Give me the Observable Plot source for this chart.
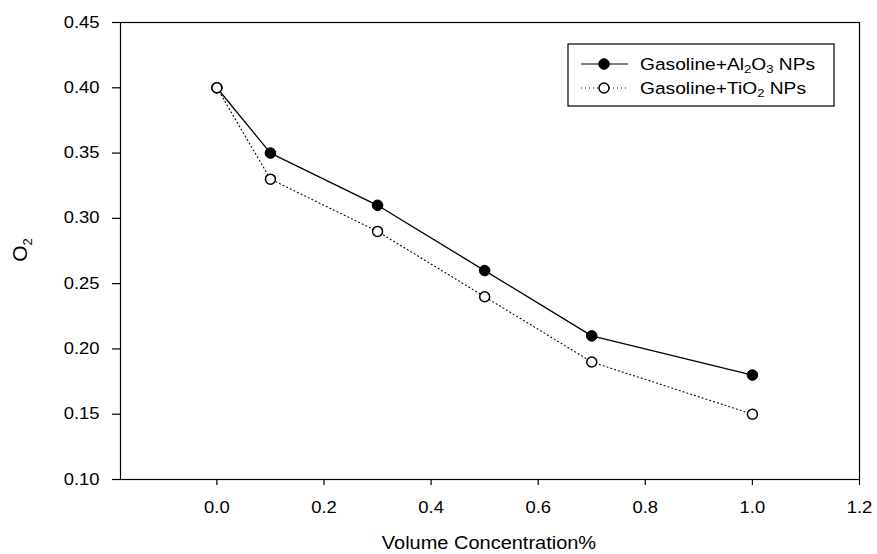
<!DOCTYPE html>
<html><head><meta charset="utf-8">
<script src="https://cdn.jsdelivr.net/npm/d3@7"></script>
<script src="https://cdn.jsdelivr.net/npm/@observablehq/plot@0.6"></script>
<style>
body{margin:0;background:#fff}
#chart svg{font-family:"Liberation Sans",Arial,sans-serif;background:#fff}
</style>
</head><body><div id="chart"></div>
<script>
const concentration = [0, 0.1, 0.3, 0.5, 0.7, 1.0];
const al2o3 = [0.40, 0.35, 0.31, 0.26, 0.21, 0.18];
const tio2 = [0.40, 0.33, 0.29, 0.24, 0.19, 0.15];
const xTicks = [0, 0.2, 0.4, 0.6, 0.8, 1.0, 1.2];
const yTicks = [0.10, 0.15, 0.20, 0.25, 0.30, 0.35, 0.40, 0.45];
const seriesNames = ["Al2O3", "TiO2"];

const dataAl = concentration.map((x, i) => ({x, y: al2o3[i], s: seriesNames[0]}));
const dataTi = concentration.map((x, i) => ({x, y: tio2[i], s: seriesNames[1]}));

const W = 877, H = 554;
const plot = Plot.plot({
  width: W, height: H,
  marginLeft: 120, marginRight: 18, marginTop: 22, marginBottom: 75,
  style: {background: "#fff", color: "#000"},
  x: {domain: [-0.18, 1.2]},
  y: {domain: [0.10, 0.45]},
  marks: [
    Plot.frame({stroke: "#000", strokeWidth: 1.2}),
    Plot.axisX({ticks: xTicks, tickFormat: d3.format(".1f"), tickSize: 6, tickPadding: 16, fontSize: 16, label: null, stroke: "#000", strokeWidth: 1.2}),
    Plot.axisY({ticks: yTicks, tickFormat: d3.format(".2f"), tickSize: 8, tickPadding: 13, fontSize: 16, label: null, stroke: "#000", strokeWidth: 1.2}),
    Plot.line(dataTi, {x: "x", y: "y", stroke: "#000", strokeWidth: 1.1, strokeDasharray: "1,3"}),
    Plot.line(dataAl, {x: "x", y: "y", stroke: "#000", strokeWidth: 1.3}),
    Plot.dot(dataAl, {x: "x", y: "y", r: 5.3, fill: "#000", stroke: "#000", strokeWidth: 1}),
    Plot.dot(dataTi, {x: "x", y: "y", r: 5, fill: "#fff", stroke: "#000", strokeWidth: 1.5})
  ]
});
document.getElementById("chart").appendChild(plot);

const svg = d3.select(plot);
// stretch tick labels horizontally like the reference
svg.selectAll('g[aria-label="x-axis tick label"] text, g[aria-label="y-axis tick label"] text')
  .attr("transform", function() { return (this.getAttribute("transform") || "") + " scale(1.15,1)"; })
  .attr("fill", "#000");

// Axis titles
svg.append("text")
  .attr("x", 489).attr("y", 549)
  .attr("text-anchor", "middle").attr("font-size", 18.5).attr("fill", "#000")
  .attr("transform", "translate(489,0) scale(1.08,1) translate(-489,0)")
  .text("Volume Concentration%");

const yt = svg.append("text")
  .attr("transform", "translate(27,250) rotate(-90)")
  .attr("text-anchor", "middle").attr("font-size", 21).attr("fill", "#000");
yt.append("tspan").text("O");
yt.append("tspan").attr("font-size", 13).attr("dy", "0.35em").text("2");

// Legend
const lg = svg.append("g").attr("font-size", 17).attr("fill", "#000").attr("text-anchor", "start");
lg.append("rect").attr("x", 568).attr("y", 44).attr("width", 266).attr("height", 62)
  .attr("fill", "#fff").attr("stroke", "#000").attr("stroke-width", 1.2);
const rows = [
  {y: 64, dash: null, fill: "#000", parts: ["Gasoline+Al", "2", "O", "3", " NPs"]},
  {y: 88, dash: "1,3", fill: "#fff", parts: ["Gasoline+TiO", "2", " NPs"]}
];
rows.forEach(r => {
  const ln = lg.append("line").attr("x1", 581).attr("x2", 628).attr("y1", r.y).attr("y2", r.y)
    .attr("stroke", "#000").attr("stroke-width", 1.2);
  if (r.dash) ln.attr("stroke-dasharray", r.dash);
  lg.append("circle").attr("cx", 604).attr("cy", r.y).attr("r", r.fill === "#000" ? 5.3 : 5)
    .attr("fill", r.fill).attr("stroke", "#000").attr("stroke-width", r.fill === "#000" ? 1 : 1.5);
  const t = lg.append("text").attr("x", 640).attr("y", r.y).attr("dy", "0.35em")
    .attr("text-anchor", "start")
    .attr("transform", `translate(640,0) scale(1.13,1) translate(-640,0)`);
  r.parts.forEach((p, i) => {
    const isSub = /^[0-9]$/.test(p);
    const ts = t.append("tspan").text(p);
    if (isSub) ts.attr("font-size", 11.5).attr("dy", "0.3em");
    else if (i > 0) ts.attr("dy", "-0.2em");
  });
});
</script>
</body></html>
